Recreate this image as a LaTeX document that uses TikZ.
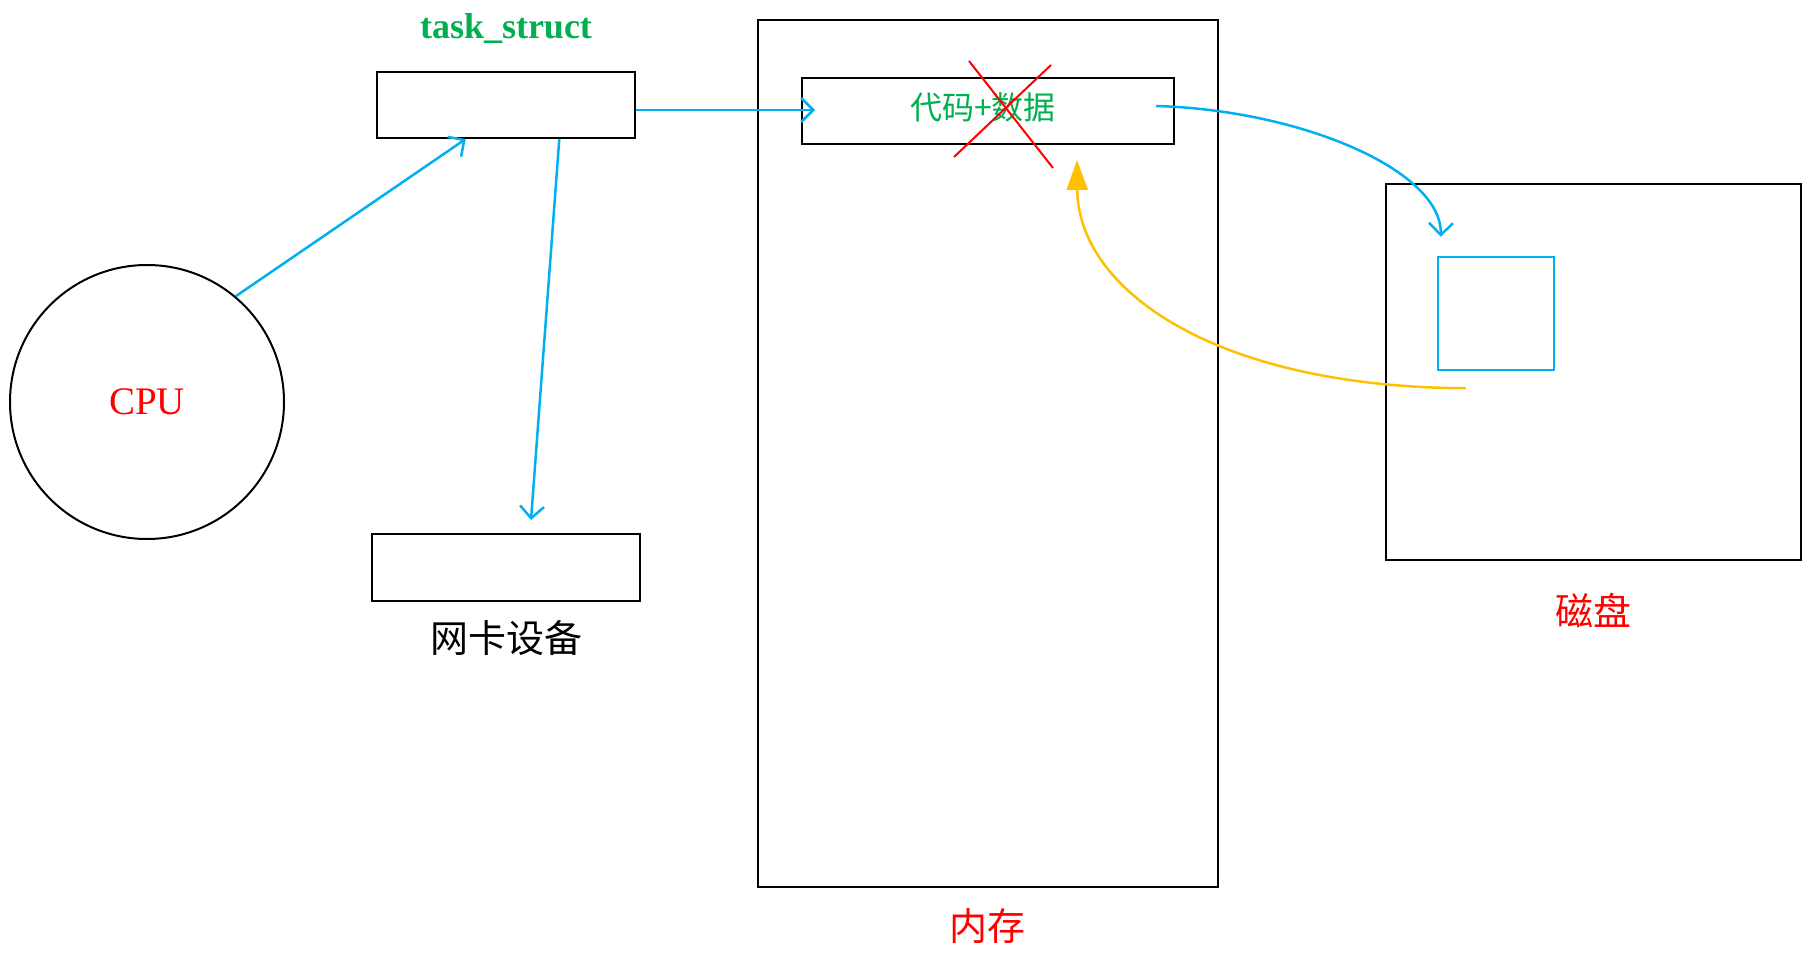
\documentclass[tikz,border=0pt]{standalone}
\usepackage{fontspec}
\setmainfont{Liberation Serif}
\newfontfamily\cjk{Noto Sans CJK SC}
\usetikzlibrary{arrows.meta,calc}
\definecolor{cblue}{HTML}{00B0F0}
\definecolor{cgreen}{HTML}{00B050}
\definecolor{cred}{HTML}{FF0000}
\definecolor{cyellow}{HTML}{FFC000}
\begin{document}
\begin{tikzpicture}[x=1pt,y=-1pt,
  box/.style={draw=black,line width=2pt,inner sep=0pt,rectangle},
  bluearr/.style={draw=cblue,line width=2.5pt,-{Straight Barb[length=12pt,width=24pt]}},
  lbl/.style={inner sep=0pt,font=\cjk\fontsize{38}{38}\selectfont},
  crossline/.style={draw=cred,line width=2pt}]
\useasboundingbox (0,0) rectangle (1815,968);
% boxes
\node[box,minimum width=258pt,minimum height=66pt] (ts) at (506,105) {};
\node[inner sep=0pt,text=cgreen,font=\bfseries\fontsize{36}{36}\selectfont] (tslbl) at (506,29) {task\_struct};
\node[box,circle,minimum size=274pt,text=cred,font=\fontsize{39}{39}\selectfont] (cpu) at (147,402) {CPU};
\node[box,minimum width=268pt,minimum height=67pt] (net) at (506,567.5) {};
\node[lbl] (netlbl) at (506,638) {网卡设备};
\node[box,minimum width=460pt,minimum height=867pt] (mem) at (988,453.5) {};
\node[lbl,text=cred] (memlbl) at (987,926) {内存};
\node[box,minimum width=372pt,minimum height=66pt] (code) at (988,111) {};
\node[inner sep=0pt,text=cgreen,font=\cjk\fontsize{32}{32}\selectfont] (codetxt) at (983,107) {代码+数据};
\node[box,minimum width=415pt,minimum height=376pt] (disk) at (1593.5,372) {};
\node[lbl,text=cred] (disklbl) at (1593,611) {磁盘};
\node[box,draw=cblue,line width=2.5pt,minimum width=116pt,minimum height=113pt] (blk) at (1496,313.5) {};
% red cross
\coordinate (x1a) at (969,61);
\coordinate (x1b) at (1053,168);
\coordinate (x2a) at (1051,65);
\coordinate (x2b) at (954,157);
\draw[crossline] (x1a) -- (x1b);
\draw[crossline] (x2a) -- (x2b);
% connectors
\draw[bluearr] (cpu.50) -- ($(ts.south west)!0.345!(ts.south east)$);
\draw[bluearr] ($(ts.south west)!0.705!(ts.south east)$) -- ($(net.north)+(25,-13)$);
\draw[bluearr] ($(ts.east)+(0,5)$) -- ($(code.west)+(14,-1)$);
\coordinate (cstart) at ($(code.east)+(-19,-5)$);
\coordinate (cend) at ($(blk.north west)+(4,-19)$);
\draw[bluearr] (cstart) .. controls (1300,110) and (1442,170) .. (cend);
\coordinate (ystart) at ($(blk.south west)+(29,17)$);
\coordinate (yend) at (1077,160);
\draw[draw=cyellow,line width=2.5pt,-{Triangle[length=30pt,width=21pt]}] (ystart) .. controls (1215,387) and (1078,290) .. (yend);
\end{tikzpicture}
\end{document}
